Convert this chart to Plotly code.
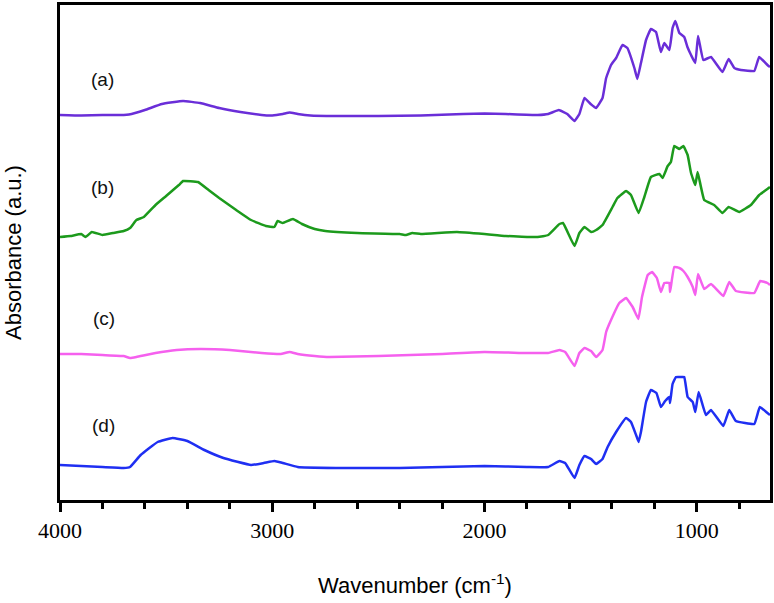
import plotly.graph_objects as go

# ---- data (offset-stacked absorbance, a.u.) ----
wn_a = [4000, 3900, 3800, 3700, 3675, 3600, 3520, 3420, 3340, 3250, 3150, 3050, 3000, 2950, 2918, 2880, 2820,
        2700, 2500, 2300, 2100, 2000, 1900, 1750, 1700, 1650, 1610, 1576, 1553, 1529, 1500, 1474, 1444, 1427,
        1404, 1380, 1350, 1327, 1294, 1280, 1263, 1239, 1216, 1192, 1169, 1153, 1129, 1114, 1101, 1082, 1059,
        1044, 1027, 1007, 994, 969, 933, 879, 850, 823, 792, 729, 706, 667, 655]
abs_a = [385, 384.5, 385, 385, 385.5, 390, 396, 399, 397, 392, 388, 385, 384.5, 386, 387.5, 386, 384.5,
         384, 384, 384.5, 386, 386.5, 386, 385, 386, 390, 386, 379, 386, 402, 396, 392, 402, 422,
         435, 442, 455, 452, 432, 421, 437, 460, 471, 468, 448, 457, 450, 472, 479, 467, 463,
         453, 445, 437, 464, 440, 443, 428, 441, 432, 430, 429, 443, 435, 433]

wn_b = [4000, 3950, 3900, 3880, 3850, 3800, 3750, 3700, 3670, 3640, 3605, 3550, 3500, 3440, 3420, 3350, 3300,
        3250, 3170, 3100, 3030, 2990, 2975, 2950, 2903, 2860, 2800, 2750, 2600, 2400, 2370, 2340, 2300, 2130,
        2000, 1900, 1750, 1700, 1647, 1630, 1576, 1553, 1529, 1498, 1474, 1444, 1397, 1374, 1333, 1310, 1274,
        1247, 1216, 1176, 1161, 1137, 1122, 1106, 1082, 1063, 1043, 1027, 1007, 996, 965, 918, 879, 850, 800,
        745, 706, 667, 655]
abs_b = [263, 264, 266, 263, 268, 265, 267, 269, 272, 280, 283, 295, 304, 315, 319, 318, 310,
         302, 290, 280, 274, 273, 279, 277, 281, 276, 271, 269, 267, 266, 265, 267, 266, 268,
         266, 264, 263, 265, 276, 277, 254, 267, 273, 268, 270, 275, 293, 302, 309, 305, 287,
         303, 323, 326, 322, 334, 338, 354, 351, 354, 345, 327, 315, 328, 300, 295, 287, 293, 288,
         295, 305, 311, 313]

wn_c = [4000, 3900, 3800, 3700, 3670, 3640, 3550, 3450, 3340, 3200, 3050, 2960, 2918, 2880, 2800, 2730,
        2500, 2200, 2000, 1800, 1700, 1647, 1620, 1576, 1553, 1529, 1498, 1474, 1444, 1427, 1404, 1365,
        1333, 1302, 1275, 1258, 1231, 1211, 1188, 1169, 1153, 1129, 1126, 1106, 1082, 1063, 1043, 1019,
        1007, 994, 965, 933, 875, 847, 816, 729, 701, 667, 655]
abs_c = [146, 146, 145, 144, 142, 143, 147, 150, 151, 150, 147, 146, 148, 146, 144, 143,
         144, 146, 148, 147, 147, 150, 148, 134, 147, 152, 149, 143, 150, 168, 180, 197,
         202, 193, 181, 203, 225, 228, 222, 208, 217, 217, 208, 233, 232, 229, 223, 213,
         205, 226, 211, 216, 204, 218, 209, 207, 219, 217, 215]

wn_d = [4000, 3800, 3700, 3670, 3620, 3540, 3470, 3400, 3320, 3230, 3100, 3040, 2990, 2950, 2880, 2700,
        2400, 2200, 2000, 1800, 1700, 1647, 1620, 1576, 1553, 1529, 1498, 1474, 1444, 1420, 1380, 1333,
        1310, 1286, 1274, 1263, 1239, 1216, 1190, 1169, 1149, 1129, 1126, 1114, 1098, 1075, 1059, 1043,
        1019, 1007, 991, 957, 933, 875, 847, 816, 729, 703, 667, 655]
abs_d = [35, 33, 32, 33, 45, 58, 62, 59, 50, 42, 35, 37, 39, 37, 33, 32,
         32, 33, 34, 33, 33, 39, 37, 22, 35, 44, 41, 36, 41, 53, 68, 82,
         78, 65, 58, 68, 98, 110, 107, 93, 99, 103, 97, 116, 123, 123, 123, 103,
         98, 88, 108, 85, 90, 74, 90, 79, 76, 93, 87, 85]

series_labels = ["(a)", "(b)", "(c)", "(d)"]
label_wn = [3802, 3802, 3793, 3793]
label_abs = [421, 313, 182, 75]
colors = ["#6A2ED8", "#1C9A1C", "#F560EE", "#1F2FF2"]

SERIF = "Times New Roman, Liberation Serif, DejaVu Serif, serif"
SANS = "Liberation Sans"

fig = go.Figure()
for wn, ab, col, name in zip([wn_a, wn_b, wn_c, wn_d], [abs_a, abs_b, abs_c, abs_d], colors, series_labels):
    fig.add_trace(go.Scatter(x=wn, y=ab, mode="lines", name=name,
                             line=dict(color=col, width=2.5, shape="spline", smoothing=0.3)))

for t, xw, ya in zip(series_labels, label_wn, label_abs):
    fig.add_annotation(x=xw, y=ya, text=t, showarrow=False, xref="x", yref="y",
                       font=dict(family=SANS, size=19, color="#111"))

fig.update_layout(
    width=774, height=603,
    margin=dict(l=60, r=4, t=5, b=103),
    paper_bgcolor="white", plot_bgcolor="white",
    showlegend=False,
    xaxis=dict(range=[4000, 655], tickmode="array", tickvals=[4000, 3000, 2000, 1000],
               ticktext=["4000", "3000", "2000", "1000"], automargin=False,
               ticks="outside", ticklen=9, tickwidth=2.5, tickcolor="black",
               minor=dict(dtick=200, ticks="outside", ticklen=6, tickwidth=2.5, tickcolor="black", showgrid=False),
               showline=True, linecolor="black", linewidth=2.5, mirror=True, showgrid=False, zeroline=False,
               tickfont=dict(family=SERIF, size=22, color="black"),
               title=dict(text="Wavenumber (cm<sup>-1</sup>)", standoff=36,
                          font=dict(family=SANS, size=22, color="black"))),
    yaxis=dict(range=[0, 495], showticklabels=False, ticks="", showgrid=False, zeroline=False,
               showline=True, linecolor="black", linewidth=2.5, mirror=True, automargin=False,
               title=dict(text="Absorbance (a.u.)", standoff=30,
                          font=dict(family=SANS, size=22, color="black"))),
)

fig.write_html("out.html", config={"displayModeBar": False},
               post_script="document.body.style.margin='0';document.body.style.padding='0';")
